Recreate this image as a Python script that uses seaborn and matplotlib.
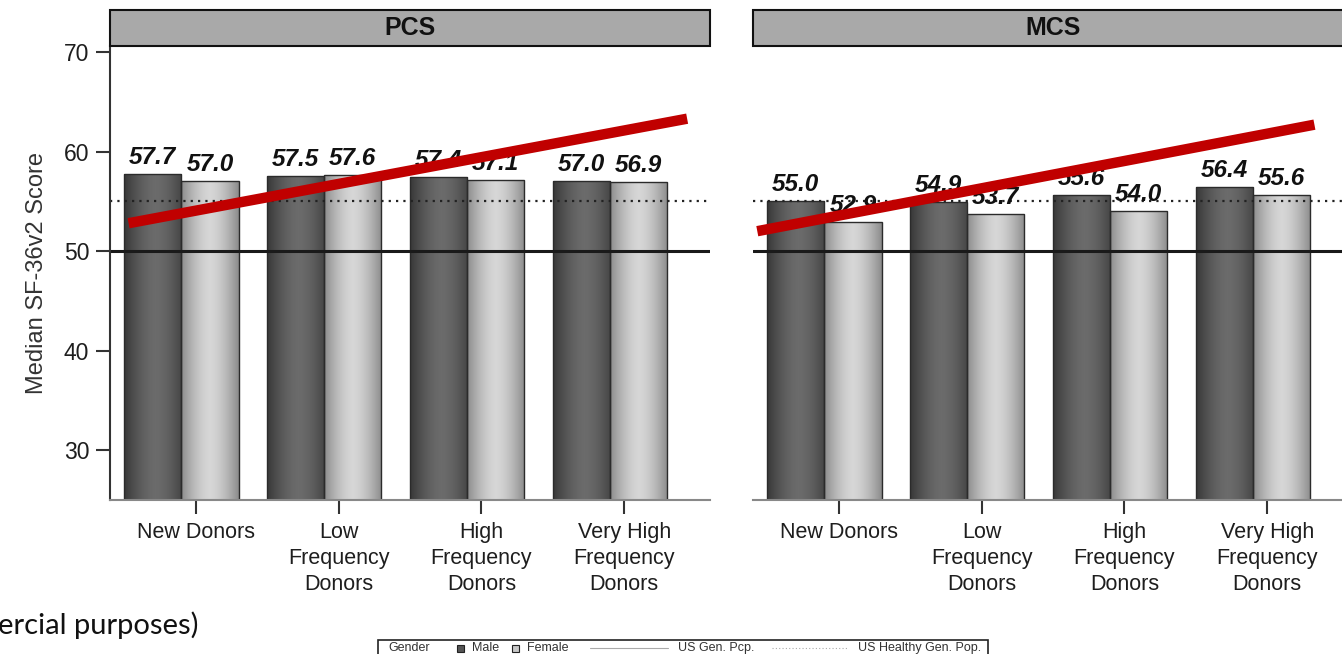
import numpy as np
import pandas as pd
import matplotlib
matplotlib.use("Agg")
import matplotlib.pyplot as plt
import seaborn as sns
from matplotlib.patches import Rectangle
from matplotlib.lines import Line2D

# ---- data -------------------------------------------------------------
groups = ["New Donors", "Low Frequency Donors", "High Frequency Donors",
          "Very High Frequency Donors"]
group_labels = ["New Donors", "Low\nFrequency\nDonors", "High\nFrequency\nDonors",
                "Very High\nFrequency\nDonors"]
genders = ["Male", "Female"]

pcs_male = [57.7, 57.5, 57.4, 57.0]
pcs_female = [57.0, 57.6, 57.1, 56.9]
mcs_male = [55.0, 54.9, 55.6, 56.4]
mcs_female = [52.9, 53.7, 54.0, 55.6]

us_gen_pop = 50.0
us_healthy_gen_pop = 55.0

# hand-drawn trend arrows: (x, y) endpoints in data units per panel
pcs_trend = ([-0.37, 3.54], [52.8, 63.3])
mcs_trend = ([-0.47, 3.43], [52.0, 62.7])

y_ticks = [30, 40, 50, 60, 70]
y_limits = (25, 70.6)

rows = []
for scale, male, female in [("PCS", pcs_male, pcs_female), ("MCS", mcs_male, mcs_female)]:
    for g, m, f in zip(groups, male, female):
        rows.append((scale, g, "Male", m))
        rows.append((scale, g, "Female", f))
df = pd.DataFrame(rows, columns=["scale", "group", "gender", "score"])

# ---- style ------------------------------------------------------------
sns.set_style("white")
plt.rcParams["font.family"] = ["Liberation Sans", "DejaVu Sans"]

W, H = 1342, 654
fig = plt.figure(figsize=(W / 100, H / 100), dpi=100)

ax_bottom = 1 - 500 / H
ax_height = (500 - 46) / H
ax_width = 600 / W
ax_pcs = fig.add_axes([110 / W, ax_bottom, ax_width, ax_height])
ax_mcs = fig.add_axes([753 / W, ax_bottom, ax_width, ax_height])

palette = {"Male": "#555555", "Female": "#bdbdbd"}


def shade_profile(lo, hi, peak, n=64):
    t = np.linspace(0, 1, n)
    s = hi - (hi - lo) * (np.abs(t - peak) / max(peak, 1 - peak)) ** 1.6
    return s


male_prof = shade_profile(0.22, 0.42, 0.55)
female_prof = shade_profile(0.55, 0.84, 0.50)


def draw_panel(ax, scale, trend, show_y):
    d = df[df["scale"] == scale]
    sns.barplot(data=d, x="group", y="score", hue="gender", order=groups,
                hue_order=genders, palette=palette, width=0.8, gap=0,
                edgecolor="#2b2b2b", linewidth=1.0, legend=False, ax=ax,
                errorbar=None, zorder=2)

    # cylinder-like shading inside each bar, limited to the visible range
    for container, prof in zip(ax.containers, [male_prof, female_prof]):
        for patch in container.patches:
            x0, y0 = patch.get_x(), patch.get_y()
            w, h = patch.get_width(), patch.get_height()
            img = np.repeat(prof[None, :, None], 3, axis=2)
            ax.imshow(img, extent=(x0, x0 + w, max(y0, y_limits[0]), y0 + h),
                      aspect="auto", interpolation="bilinear", zorder=2.1,
                      vmin=0, vmax=1)
            patch.set_facecolor("none")
            patch.set_zorder(2.2)
        ax.bar_label(container, fmt="%.1f", padding=4, fontsize=17.5,
                     fontweight="bold", fontstyle="italic", color="#111111",
                     zorder=3)

    ax.axhline(us_gen_pop, color="#1a1a1a", lw=2.2, zorder=2.5)
    ax.axhline(us_healthy_gen_pop, color="#222222", lw=1.6,
               linestyle=(0, (1.0, 2.3)), zorder=2.5)
    ax.plot(trend[0], trend[1], color="#c00000", lw=7.5,
            solid_capstyle="butt", zorder=4)

    ax.set_xlim(-0.5, 3.7)
    ax.set_ylim(*y_limits)
    ax.set_xticks([i + 0.1 for i in range(len(groups))])
    ax.set_xticklabels(group_labels, fontsize=15.5, color="#1e1e1e",
                       linespacing=1.3)
    ax.set_xlabel("")
    ax.tick_params(axis="x", direction="out", length=10, width=1.5,
                   color="#333333", pad=6, bottom=True)
    for s in ["top", "right"]:
        ax.spines[s].set_visible(False)
    ax.spines["bottom"].set_color("#888888")
    ax.spines["bottom"].set_linewidth(1.5)
    if show_y:
        ax.set_yticks(y_ticks)
        ax.tick_params(axis="y", direction="out", length=10, width=1.5,
                       color="#333333", labelsize=16.5, labelcolor="#1e1e1e",
                       pad=5, left=True)
        ax.spines["left"].set_color("#333333")
        ax.spines["left"].set_linewidth(1.5)
        ax.set_ylabel("Median SF-36v2 Score", fontsize=17, color="#333333",
                      labelpad=11)
    else:
        ax.set_yticks([])
        ax.set_ylabel("")
        ax.spines["left"].set_visible(False)

    # panel strip
    strip_h = 36 / 454
    ax.add_patch(Rectangle((0, 1), 1, strip_h, transform=ax.transAxes,
                           facecolor="#a9a9a9", edgecolor="#111111", lw=1.5,
                           clip_on=False, zorder=5))
    ax.text(0.5, 1 + strip_h / 2, scale, transform=ax.transAxes, ha="center",
            va="center", fontsize=18, fontweight="bold", color="#111111",
            zorder=6)


draw_panel(ax_pcs, "PCS", pcs_trend, True)
draw_panel(ax_mcs, "MCS", mcs_trend, False)

# ---- legend strip at the bottom --------------------------------------
fig.add_artist(Rectangle((378 / W, -0.02), 610 / W, 0.02 + 14 / H,
                         transform=fig.transFigure, facecolor="white",
                         edgecolor="#222222", lw=1.2))
ly = 1 - 648 / H
lfs = 9
lc = "#333333"
fig.text(388 / W, ly, "Gender", fontsize=lfs, color=lc, va="center")
fig.add_artist(Rectangle((457 / W, ly - 3.5 / H), 7 / W, 7 / H,
                         transform=fig.transFigure, facecolor="#555555",
                         edgecolor="#222222", lw=0.8))
fig.text(472 / W, ly, "Male", fontsize=lfs, color=lc, va="center")
fig.add_artist(Rectangle((512 / W, ly - 3.5 / H), 7 / W, 7 / H,
                         transform=fig.transFigure, facecolor="#c8c8c8",
                         edgecolor="#222222", lw=0.8))
fig.text(527 / W, ly, "Female", fontsize=lfs, color=lc, va="center")
fig.add_artist(Line2D([590 / W, 668 / W], [ly, ly], transform=fig.transFigure,
                      color="#aaaaaa", lw=0.8))
fig.text(678 / W, ly, "US Gen. Pcp.", fontsize=lfs, color=lc, va="center")
fig.add_artist(Line2D([772 / W, 848 / W], [ly, ly], transform=fig.transFigure,
                      color="#aaaaaa", lw=0.8, linestyle=(0, (1, 2))))
fig.text(858 / W, ly, "US Healthy Gen. Pop.", fontsize=lfs, color=lc,
         va="center")

fig.text(-2 / W, 1 - 625 / H, "ercial purposes)", fontsize=21,
         family=["Lato", "DejaVu Sans"], color="#111111", va="center",
         ha="left")

fig.savefig("out.png", dpi=100)
